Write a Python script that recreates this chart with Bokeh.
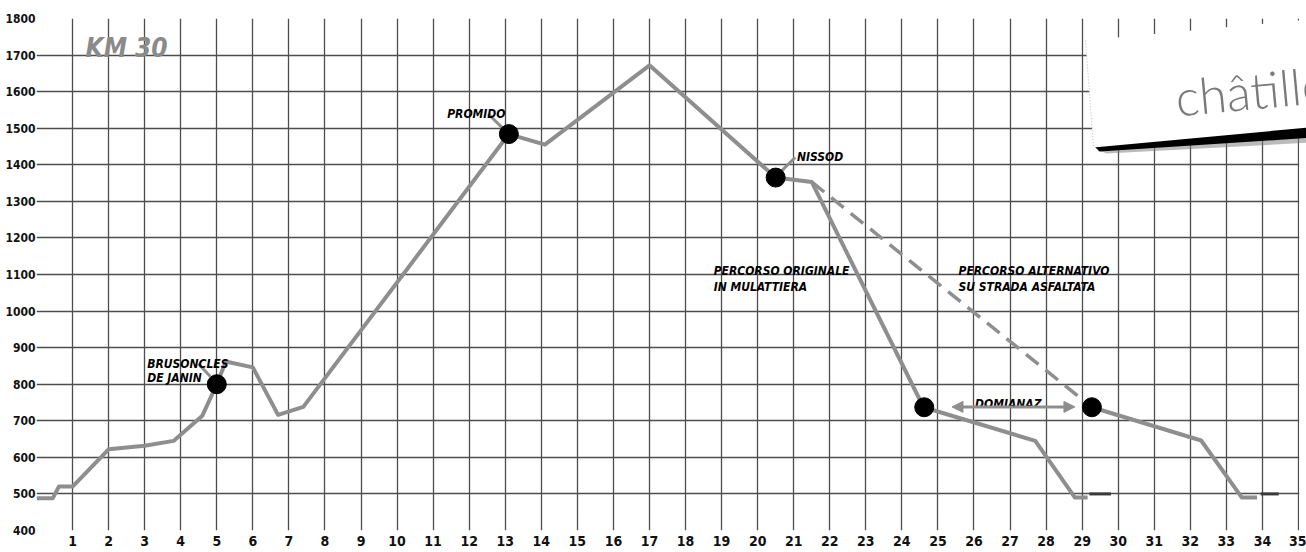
from bokeh.plotting import figure
from bokeh.models import FixedTicker, Arrow, NormalHead, Range1d
from bokeh.core.properties import value
from bokeh.embed import file_html
from bokeh.resources import INLINE

# ---------------- data (km, metres) ----------------
route_km = [0, 0.45, 0.62, 1.0, 2.0, 3.0, 3.8, 4.6, 5.0, 5.25, 6.0, 6.7, 7.4,
            13.1, 14.1, 17.0, 20.5, 21.5, 24.6, 27.7, 28.8, 29.15]
route_elev = [488, 488, 520, 520, 622, 632, 645, 714, 800, 862, 846, 716, 738,
              1484, 1455, 1672, 1365, 1353, 737, 645, 490, 490]
alt_km = [21.5, 29.27]
alt_elev = [1353, 737]
desc_km = [29.27, 32.3, 33.43, 33.85]
desc_elev = [737, 646, 490, 490]
end_a_km = [29.2, 29.8]
end_b_km = [33.95, 34.45]
end_elev = [500, 500]
poi_km = [5.0, 13.1, 20.5, 24.62, 29.27]
poi_elev = [800, 1484, 1365, 737, 737]
domianaz_span_km = [25.39, 28.8]
domianaz_elev = 738

x_ticks = list(range(1, 36))
y_ticks = list(range(400, 1801, 100))
km_max = 35

GRAY = "#8e8e8e"
GRID = "#4d4d4d"
FONT = "DejaVu Sans Condensed, Liberation Sans Narrow, Liberation Sans, sans-serif"

# frame: page x 36..1306 (km 0 .. 35 at x=1298), page y 18..530
PX_PER_KM = (1298 - 36) / 35.0
x_end = km_max + (1306 - 1298) / PX_PER_KM

p = figure(width=1306, height=552, x_range=Range1d(0, x_end), y_range=Range1d(400, 1800),
           output_backend="svg", toolbar_location=None,
           min_border_left=36, min_border_right=0, min_border_top=18, min_border_bottom=22)
p.background_fill_color = "white"
p.border_fill_color = "white"
p.outline_line_color = None

p.xaxis.ticker = FixedTicker(ticks=x_ticks)
p.yaxis.ticker = FixedTicker(ticks=y_ticks)
p.xgrid.ticker = FixedTicker(ticks=list(range(0, 36)))
p.ygrid.ticker = FixedTicker(ticks=y_ticks)
for g in (p.xgrid, p.ygrid):
    g.grid_line_color = GRID
    g.grid_line_width = 1.3
for ax in (p.xaxis, p.yaxis):
    ax.axis_line_color = None
    ax.major_tick_line_color = None
    ax.minor_tick_line_color = None
    ax.major_tick_out = 0
    ax.major_tick_in = 0
    ax.minor_tick_out = 0
    ax.minor_tick_in = 0
    ax.major_label_text_font = FONT
    ax.major_label_text_font_style = "bold"
    ax.major_label_text_color = "#111111"
p.xaxis.major_label_text_font_size = "14px"
p.yaxis.major_label_text_font_size = "12px"
p.xaxis.major_label_standoff = 5
p.yaxis.major_label_standoff = 1

# page-pixel helpers for decorations
def kx(px):
    return (px - 36) / PX_PER_KM
def ey(py):
    return 1800 - (py - 18) / ((530 - 18) / 1400.0)

# white strip hiding grid overshoot right of km 35
p.quad(left=[km_max + 0.02], right=[x_end + 0.1], bottom=[400.5], top=[1799.5],
       fill_color="white", line_color=None)

# profile lines
p.line(alt_km, alt_elev, line_color=GRAY, line_width=3.5, line_dash="16 9")
p.line(route_km, route_elev, line_color=GRAY, line_width=4, line_join="round")
p.line(desc_km, desc_elev, line_color=GRAY, line_width=4, line_join="round")
p.line(end_a_km, end_elev, line_color="#3a3a3a", line_width=3)
p.line(end_b_km, end_elev, line_color="#3a3a3a", line_width=3)

# leader lines
p.segment(x0=[4.49, 12.53, 21.04], y0=[856, 1539, 1420],
          x1=[4.82, 12.92, 20.67], y1=[821, 1501, 1384],
          line_color=GRAY, line_width=3)

p.scatter(poi_km, poi_elev, size=19, fill_color="black", line_color="black")

# Domianaz double arrow
for xe in (domianaz_span_km[1], domianaz_span_km[0]):
    p.add_layout(Arrow(end=NormalHead(size=11, fill_color=GRAY, line_color=GRAY),
                       x_start=sum(domianaz_span_km) / 2, y_start=domianaz_elev,
                       x_end=xe, y_end=domianaz_elev, line_color=GRAY, line_width=3))

# labels
lab_x = [3.07, 3.07, 11.39, 21.09, 18.78, 18.78, 25.57, 25.57]
lab_y = [856, 816, 1538, 1420, 1110, 1065, 1110, 1065]
lab_t = ["BRUSONCLES", "DE JANIN", "PROMIDO", "NISSOD", "PERCORSO ORIGINALE", "IN MULATTIERA",
         "PERCORSO ALTERNATIVO", "SU STRADA ASFALTATA"]
p.text(x=lab_x, y=lab_y, text=lab_t, text_font=value(FONT), text_font_style="bold italic",
       text_font_size="12px", text_color="black", text_baseline="alphabetic", text_align="left")
p.text(x=[26.95], y=[746], text=["DOMIANAZ"], text_font=value(FONT), text_font_style="bold italic",
       text_font_size="12px", text_color="black", text_baseline="alphabetic", text_align="center")
p.text(x=[1.36], y=[1720], text=["KM 30"], text_font=value(FONT), text_font_style="bold italic",
       text_font_size="26px", text_color="#8a8a8a", text_baseline="alphabetic", text_align="left")

# card in the top-right corner
card = [(1085, 40), (1330, 17), (1330, 125), (1093, 147)]
shadow = [(1093, 145), (1330, 123), (1330, 136), (1099, 151)]
blur = [(1099, 150), (1330, 135), (1330, 141), (1106, 153)]
p.patch([kx(a) for a, b in blur], [ey(b) for a, b in blur], fill_color="#777777", fill_alpha=0.5, line_color=None)
p.patch([kx(a) for a, b in shadow], [ey(b) for a, b in shadow], fill_color="black", line_color=None)
p.patch([kx(a) for a, b in card], [ey(b) for a, b in card], fill_color="white", line_color=None)
p.line([kx(1085), kx(1093)], [ey(40), ey(147)], line_color="#bbbbbb", line_width=1, line_dash="1 2")
p.text(x=[kx(1175)], y=[ey(97)], text=["châtillon"], angle=0.092,
       text_font=value("Lato Light, Lato, sans-serif"), text_font_size="50px", text_color="#7a7a7a",
       text_baseline="alphabetic", text_align="left")

open("out.html", "w").write(file_html(p, INLINE))
